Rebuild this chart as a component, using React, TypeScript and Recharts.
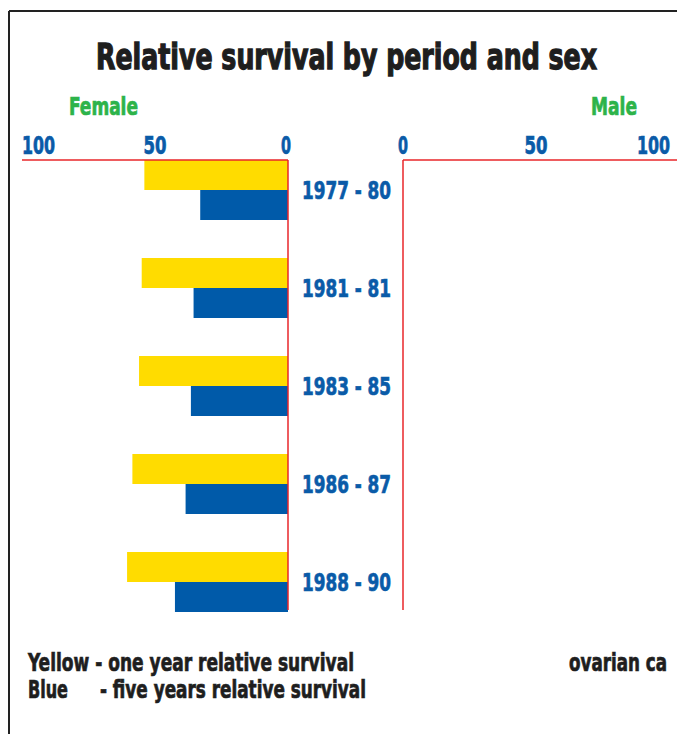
import React from 'react';
import { BarChart, Bar, XAxis, YAxis } from 'recharts';

// survival periods (rows, top to bottom)
const periods = ['1977 - 80', '1981 - 81', '1983 - 85', '1986 - 87', '1988 - 90'];
// female relative survival, %
const femaleOneYear = [54, 55, 56, 58.5, 60.5];
const femaleFiveYear = [33, 35.5, 36.5, 38.5, 42.5];
// male panel is empty in the source (ovarian cancer)
const maleOneYear: (number | null)[] = [null, null, null, null, null];
const maleFiveYear: (number | null)[] = [null, null, null, null, null];
const axisTicks = [0, 50, 100];

const FONT = "'Liberation Sans Narrow', 'DejaVu Sans Condensed', 'Roboto', sans-serif";
const BLUE = '#0A5BA8';
const GREEN = '#2DB34A';
const RED = '#E8262A';
const YELLOW = '#FFDC00';
const BAR_BLUE = '#005AA9';
const INK = '#1E1E1E';

const femaleData = periods.map((p, i) => ({
  period: p,
  oneYear: femaleOneYear[i],
  fiveYear: femaleFiveYear[i],
}));
const maleData = periods.map((p, i) => ({
  period: p,
  oneYear: maleOneYear[i],
  fiveYear: maleFiveYear[i],
}));

const tickWidths: Record<number, number> = { 0: 10, 50: 23, 100: 33 };

// top axis tick: 100 sits at the outer end, 0 at the inner end
const makeTopTick = (outerAnchor: 'start' | 'end', zeroAnchor: 'end' | 'middle') => (props: any) => {
  const { x, payload } = props;
  const v = payload.value as number;
  const anchor = v === 100 ? outerAnchor : v === 0 ? zeroAnchor : 'middle';
  const dx = v === 0 && zeroAnchor === 'end' ? 3 : v === 100 && outerAnchor === 'end' ? 1 : 0;
  return (
    <text x={x + dx} y={154} textAnchor={anchor} fill={BLUE} stroke={BLUE} strokeWidth={0.7}
      fontFamily={FONT} fontWeight="bold" fontSize={25} textLength={tickWidths[v]} lengthAdjust="spacingAndGlyphs">
      {v}
    </text>
  );
};

const PeriodTick = (props: any) => {
  const { y, payload } = props;
  return (
    <text x={302} y={y + 9} textAnchor="start" fill={BLUE} stroke={BLUE} strokeWidth={0.7}
      fontFamily={FONT} fontWeight="bold" fontSize={25} textLength={89} lengthAdjust="spacingAndGlyphs">
      {payload.value}
    </text>
  );
};

const Label = ({ x, y, w, color = INK, size = 24, sw = 0.7, children }: any) => (
  <text x={x} y={y} fill={color} stroke={color} strokeWidth={sw} fontFamily={FONT} fontWeight="bold"
    fontSize={size} textLength={w} lengthAdjust="spacingAndGlyphs">
    {children}
  </text>
);

export default function App() {
  return (
    <div style={{ position: 'absolute', left: 0, top: 0, width: 677, height: 734, background: '#fff', overflow: 'hidden' }}>
      <div style={{ position: 'absolute', left: 0, top: 0 }}>
        <BarChart width={420} height={650} data={femaleData} layout="vertical"
          margin={{ top: 120, right: 0, bottom: 40, left: 22 }} barGap={0}>
          <XAxis type="number" orientation="top" domain={[0, 100]} ticks={axisTicks} reversed
            height={40} axisLine={{ stroke: RED, strokeWidth: 1.5 }} tickLine={false}
            tick={makeTopTick('start', 'end')} interval={0} />
          <YAxis type="category" dataKey="period" orientation="right" width={132}
            padding={{ top: -19, bottom: -21 }}
            axisLine={{ stroke: RED, strokeWidth: 1.5 }} tickLine={false} tick={<PeriodTick />} interval={0} />
          <Bar dataKey="oneYear" fill={YELLOW} barSize={30} isAnimationActive={false} />
          <Bar dataKey="fiveYear" fill={BAR_BLUE} barSize={30} isAnimationActive={false} />
        </BarChart>
      </div>
      <div style={{ position: 'absolute', left: 0, top: 0 }}>
        <BarChart width={677} height={650} data={maleData} layout="vertical"
          margin={{ top: 120, right: 0, bottom: 40, left: 402 }} barGap={0}>
          <XAxis type="number" orientation="top" domain={[0, 103]} allowDataOverflow ticks={axisTicks}
            height={40} axisLine={{ stroke: RED, strokeWidth: 1.5 }} tickLine={false}
            tick={makeTopTick('end', 'middle')} interval={0} />
          <YAxis type="category" dataKey="period" orientation="left" width={1}
            padding={{ top: -19, bottom: -21 }}
            axisLine={{ stroke: RED, strokeWidth: 1.5 }} tickLine={false} tick={false} />
          <Bar dataKey="oneYear" fill={YELLOW} barSize={30} isAnimationActive={false} />
          <Bar dataKey="fiveYear" fill={BAR_BLUE} barSize={30} isAnimationActive={false} />
        </BarChart>
      </div>
      <svg width={677} height={734} style={{ position: 'absolute', left: 0, top: 0, pointerEvents: 'none' }}>
        <line x1={9} y1={11} x2={677} y2={11} stroke="#222" strokeWidth={2} />
        <line x1={9} y1={11} x2={9} y2={734} stroke="#222" strokeWidth={2} />
        <Label x={96} y={69} w={501} size={36} sw={1.3}>Relative survival by period and sex</Label>
        <Label x={69} y={115} w={69} color={GREEN} size={25}>Female</Label>
        <Label x={591} y={115} w={46} color={GREEN} size={25}>Male</Label>
        <Label x={28} y={671} w={326}>Yellow - one year relative survival</Label>
        <Label x={28} y={698} w={40}>Blue</Label>
        <Label x={100} y={698} w={266}>- five years relative survival</Label>
        <Label x={569} y={671} w={98}>ovarian ca</Label>
      </svg>
    </div>
  );
}
